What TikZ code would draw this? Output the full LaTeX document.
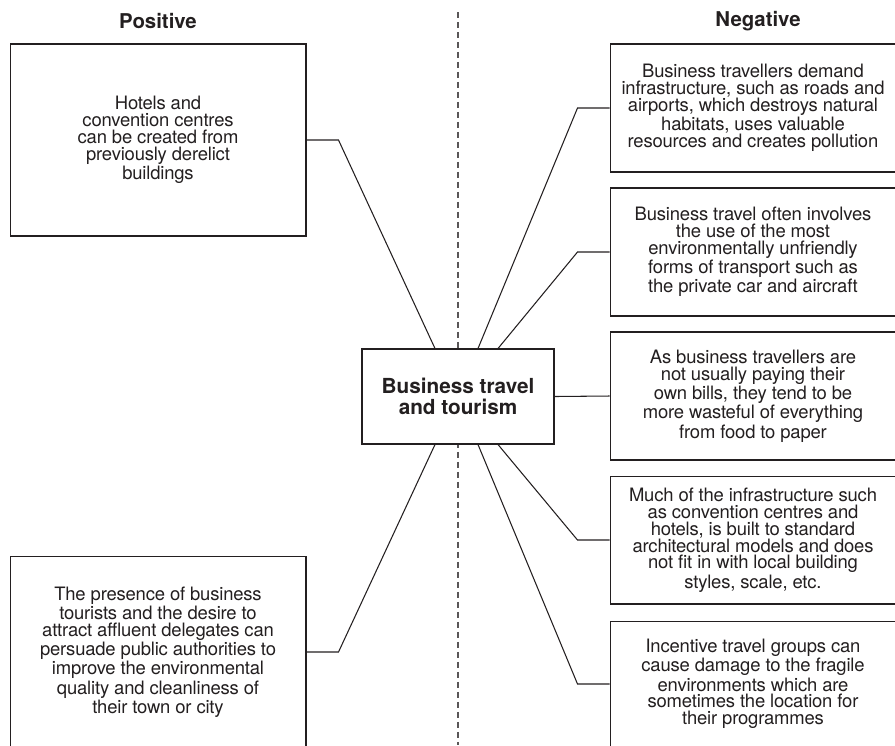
\documentclass[tikz,border=0pt]{standalone}
\usepackage{fontspec}
\setmainfont{TeX Gyre Heros}
\newfontfamily\boxfont[LetterSpace=-1]{TeX Gyre Heros}
\usetikzlibrary{calc}
\definecolor{ink}{HTML}{231F20}

\begin{document}
\begin{tikzpicture}[x=0.02cm, y=-0.02cm, line width=0.6pt, draw=ink, text=ink,
    box/.style={rectangle, draw, fill=white, align=center, inner sep=0pt,
      font=\boxfont\fontsize{10.5}{9.6}\selectfont},
    head/.style={font=\fontsize{11.6}{12}\selectfont\bfseries}]
    \useasboundingbox (0,0) rectangle (895,745);
    \clip (0,0) rectangle (895,745);

    % 区切りの破線
    \draw[dash pattern=on 0.12cm off 0.08cm, draw=ink!75] (458,12) -- (458,745);

    % 見出し
    \node[head] (poshead) at (158,21) {Positive};
    \node[head] (neghead) at (758,21) {Negative};

    % 中央のノード
    \node[box, minimum width=3.84cm, minimum height=1.9cm,
      font=\fontsize{11.8}{11.6}\selectfont\bfseries] (centre) at (458,396.5)
      {Business travel\\and tourism};

    % 左側(プラス面)
    \node[box, minimum width=5.92cm, minimum height=3.84cm] (pos1) at (158,140)
      {Hotels and\\convention centres\\can be created from\\previously derelict\\buildings};
    \node[box, minimum width=5.92cm, minimum height=3.84cm] (pos2) at (158,652)
      {The presence of business\\tourists and the desire to\\attract affluent delegates can\\persuade public authorities to\\improve the environmental\\quality and cleanliness of\\their town or city};

    % 右側(マイナス面)
    \node[box, minimum width=5.72cm, minimum height=2.56cm] (neg1) at (753,108)
      {Business travellers demand\\infrastructure, such as roads and\\airports, which destroys natural\\habitats, uses valuable\\resources and creates pollution};
    \node[box, minimum width=5.72cm, minimum height=2.56cm] (neg2) at (753,252)
      {Business travel often involves\\the use of the most\\environmentally unfriendly\\forms of transport such as\\the private car and aircraft};
    \node[box, minimum width=5.72cm, minimum height=2.56cm] (neg3) at (753,396)
      {As business travellers are\\not usually paying their\\own bills, they tend to be\\more wasteful of everything\\from food to paper};
    \node[box, minimum width=5.72cm, minimum height=2.56cm] (neg4) at (753,540)
      {Much of the infrastructure such\\as convention centres and\\hotels, is built to standard\\architectural models and does\\not fit in with local building\\styles, scale, etc.};
    \node[box, minimum width=5.72cm, minimum height=2.52cm] (neg5) at (753,684)
      {Incentive travel groups can\\cause damage to the fragile\\environments which are\\sometimes the location for\\their programmes};

    % 線の定義
    \draw (pos1.east) -- ++(32,0) -- ($(centre.north)+(-23,0)$);
    \draw (pos2.east) -- ++(32,0) -- ($(centre.south)+(-23,0)$);
    \draw (neg1.west) -- ++(-32,0) -- ($(centre.north)+(20,0)$);
    \draw (neg2.west) -- ++(-32,0) -- ($(centre.north)+(40,0)$);
    \draw (centre.east) -- (neg3.west);
    \draw (neg4.west) -- ++(-32,0) -- ($(centre.south)+(40,0)$);
    \draw (neg5.west) -- ++(-32,0) -- ($(centre.south)+(20,0)$);
\end{tikzpicture}
\end{document}
